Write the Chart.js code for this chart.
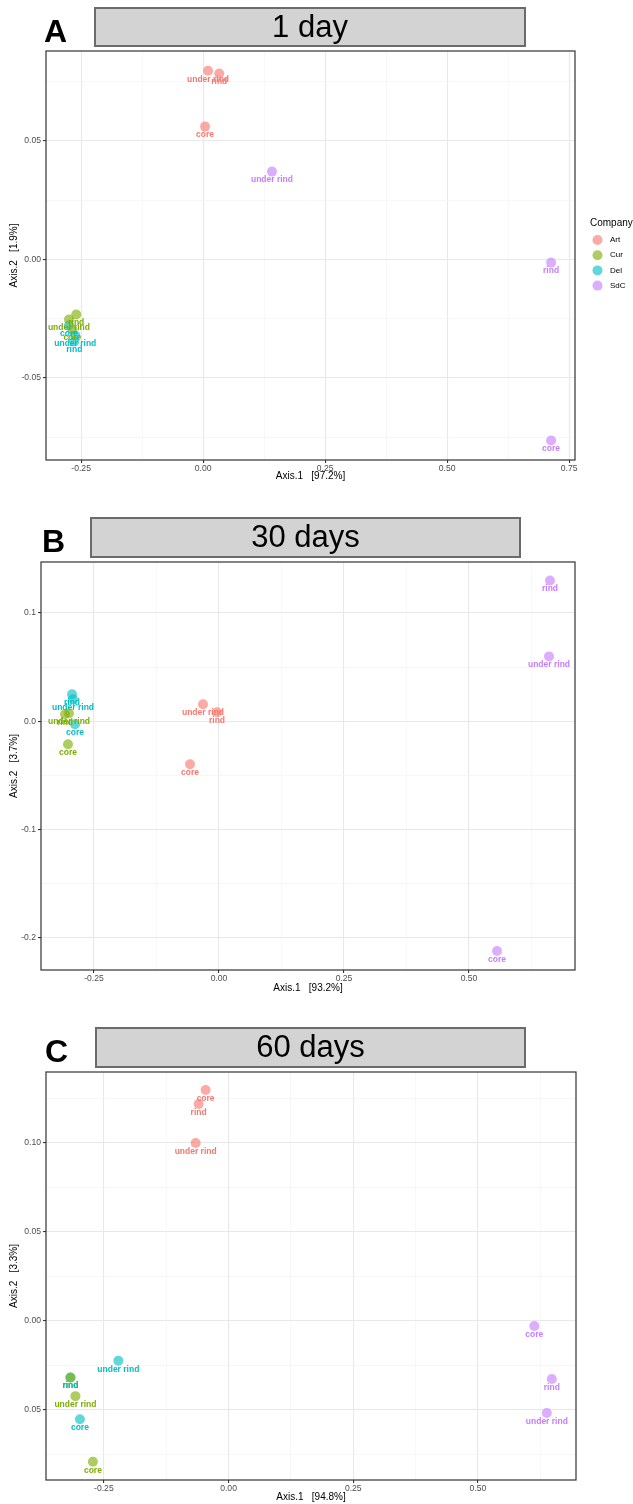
<!DOCTYPE html>
<html>
<head>
<meta charset="utf-8">
<script src="https://cdn.jsdelivr.net/npm/chart.js@4.4.1/dist/chart.umd.min.js"></script>
<style>
  html, body { margin: 0; padding: 0; background: #fff; }
  canvas { display: block; }
</style>
</head>
<body>
<canvas id="panelA" width="633" height="500"></canvas>
<canvas id="panelB" width="633" height="510"></canvas>
<canvas id="panelC" width="633" height="494"></canvas>
<script>
// companies and sample sites (each point = [Axis.1, Axis.2], in sites order)
const companies = ['Art', 'Cur', 'Del', 'SdC'];
const sites = ['core', 'rind', 'under rind'];

// 1 day
const day1Art = [[0.004, 0.0561], [0.033, 0.0785], [0.010, 0.0797]];
const day1Cur = [[-0.268, -0.0295], [-0.260, -0.0232], [-0.275, -0.0253]];
const day1Del = [[-0.275, -0.0278], [-0.264, -0.0346], [-0.262, -0.0321]];
const day1SdC = [[0.713, -0.0764], [0.713, -0.0013], [0.141, 0.0371]];

// 30 days
const day30Art = [[-0.058, -0.0396], [-0.004, 0.0083], [-0.032, 0.0157]];
const day30Cur = [[-0.302, -0.0212], [-0.308, 0.0065], [-0.300, 0.0074]];
const day30Del = [[-0.288, -0.0028], [-0.294, 0.0249], [-0.292, 0.0203]];
const day30SdC = [[0.556, -0.212], [0.662, 0.130], [0.660, 0.0599]];

// 60 days
const day60Art = [[-0.046, 0.1298], [-0.060, 0.1219], [-0.066, 0.1000]];
const day60Cur = [[-0.272, -0.0790], [-0.317, -0.0317], [-0.307, -0.0422]];
const day60Del = [[-0.298, -0.0552], [-0.317, -0.0317], [-0.221, -0.0223]];
const day60SdC = [[0.613, -0.0028], [0.648, -0.0326], [0.638, -0.0517]];

// ticks
const ticksA_x = [-0.25, 0, 0.25, 0.5, 0.75];
const labelsA_x = ['-0.25', '0.00', '0.25', '0.50', '0.75'];
const minorA_x = [-0.125, 0.125, 0.375, 0.625];
const ticksA_y = [-0.05, 0, 0.05];
const labelsA_y = ['-0.05', '0.00', '0.05'];
const minorA_y = [-0.075, -0.025, 0.025, 0.075];

const ticksB_x = [-0.25, 0, 0.25, 0.5];
const labelsB_x = ['-0.25', '0.00', '0.25', '0.50'];
const minorB_x = [-0.125, 0.125, 0.375, 0.625];
const ticksB_y = [-0.2, -0.1, 0, 0.1];
const labelsB_y = ['-0.2', '-0.1', '0.0', '0.1'];
const minorB_y = [-0.15, -0.05, 0.05];

const ticksC_x = [-0.25, 0, 0.25, 0.5];
const labelsC_x = ['-0.25', '0.00', '0.25', '0.50'];
const minorC_x = [-0.125, 0.125, 0.375, 0.625];
const ticksC_y = [-0.05, 0, 0.05, 0.10];
const labelsC_y = ['0.05', '0.00', '0.05', '0.10'];
const minorC_y = [-0.075, -0.025, 0.025, 0.075, 0.125];

const colors = ['#F8766D', '#7CAE00', '#00BFC4', '#C77CFF'];
const fills = ['rgba(248,118,109,0.62)', 'rgba(124,174,0,0.62)', 'rgba(0,191,196,0.62)', 'rgba(199,124,255,0.62)'];
const FONT = '"Liberation Sans", Arial, Helvetica, sans-serif';

// text labels under points + panel frame
const pointLabels = {
  id: 'pointLabels',
  afterDatasetsDraw(chart) {
    const ctx = chart.ctx;
    ctx.save();
    ctx.font = 'bold 8.5px ' + FONT;
    ctx.textAlign = 'center';
    ctx.textBaseline = 'middle';
    chart.data.datasets.forEach((ds, i) => {
      ctx.fillStyle = colors[i];
      chart.getDatasetMeta(i).data.forEach((pt, j) => {
        ctx.fillText(sites[j], pt.x, pt.y + 8.5);
      });
    });
    const a = chart.chartArea;
    ctx.strokeStyle = '#333';
    ctx.lineWidth = 1.2;
    ctx.strokeRect(a.left, a.top, a.right - a.left, a.bottom - a.top);
    ctx.restore();
  }
};

// panel letter and grey title strip
const header = {
  id: 'header',
  afterDraw(chart, args, o) {
    const ctx = chart.ctx;
    ctx.save();
    ctx.fillStyle = '#d3d3d3';
    ctx.fillRect(o.box[0], o.box[1], o.box[2], o.box[3]);
    ctx.strokeStyle = '#6b6b6b';
    ctx.lineWidth = 2;
    ctx.strokeRect(o.box[0], o.box[1], o.box[2], o.box[3]);
    ctx.fillStyle = '#000';
    ctx.textBaseline = 'middle';
    ctx.textAlign = 'center';
    ctx.font = '31px ' + FONT;
    ctx.fillText(o.title, o.box[0] + o.box[2] / 2, o.box[1] + o.box[3] / 2 + 1);
    ctx.textAlign = 'left';
    ctx.textBaseline = 'alphabetic';
    ctx.font = 'bold 32px ' + FONT;
    ctx.fillText(o.letter, o.letterPos[0], o.letterPos[1]);
    if (o.legend) {
      ctx.font = '10px ' + FONT;
      ctx.textBaseline = 'middle';
      ctx.fillText('Company', 590, 223);
      ctx.font = '8px ' + FONT;
      companies.forEach((c, i) => {
        const y = 240 + i * 15.2;
        ctx.fillStyle = fills[i];
        ctx.beginPath();
        ctx.arc(597.5, y, 5, 0, Math.PI * 2);
        ctx.fill();
        ctx.fillStyle = '#000';
        ctx.fillText(c, 610, y);
      });
    }
    ctx.restore();
  }
};

function axis(isX, min, max, ticks, labels, minors, title, size, titlePad) {
  const all = ticks.concat(minors).sort((a, b) => a - b);
  const majorIdx = v => ticks.findIndex(t => Math.abs(t - v) < 1e-9);
  const isMajor = c => c.tick && majorIdx(c.tick.value) >= 0;
  return {
    type: 'linear',
    min: min,
    max: max,
    afterBuildTicks: s => { s.ticks = all.map(v => ({ value: v })); },
    afterFit: s => { if (isX) s.height = size; else s.width = size; },
    ticks: {
      autoSkip: false,
      maxRotation: 0,
      padding: isX ? 0 : 2,
      color: '#4d4d4d',
      font: { size: 8.6, family: FONT },
      callback: v => { const k = majorIdx(v); return k < 0 ? '' : labels[k]; }
    },
    grid: {
      color: c => isMajor(c) ? '#e8e8e8' : '#f1f1f1',
      lineWidth: c => isMajor(c) ? 1.1 : 0.6,
      tickLength: 3,
      tickColor: c => isMajor(c) ? '#333' : 'rgba(0,0,0,0)'
    },
    border: { display: false },
    title: {
      display: true,
      text: title,
      color: '#000',
      font: { size: 10, family: FONT },
      padding: titlePad
    }
  };
}

function makePanel(id, sets, p) {
  new Chart(document.getElementById(id), {
    type: 'scatter',
    data: {
      datasets: sets.map((pts, i) => ({
        label: companies[i],
        data: pts.map(d => ({ x: d[0], y: d[1] })),
        backgroundColor: fills[i],
        borderWidth: 0,
        pointRadius: 5,
        pointHoverRadius: 5
      }))
    },
    options: {
      responsive: false,
      animation: false,
      layout: { padding: { top: p.top, left: 0, right: 633 - p.right, bottom: p.bottom } },
      plugins: {
        legend: { display: false },
        tooltip: { enabled: false },
        header: { title: p.title, letter: p.letter, box: p.box, letterPos: p.letterPos, legend: p.legend }
      },
      scales: {
        x: axis(true, p.xr[0], p.xr[1], p.xt[0], p.xt[1], p.xt[2], p.xTitle, p.xh, { top: 0, bottom: p.xpad }),
        y: axis(false, p.yr[0], p.yr[1], p.yt[0], p.yt[1], p.yt[2], p.yTitle, p.left, { top: 8, bottom: 0 })
      }
    },
    plugins: [pointLabels, header]
  });
}

makePanel('panelA', [day1Art, day1Cur, day1Del, day1SdC], {
  title: '1 day', letter: 'A', box: [95, 8, 430, 38], letterPos: [44, 42], legend: true,
  top: 51, right: 575, left: 46, bottom: 16, xh: 24, xpad: 2,
  xr: [-0.322, 0.762], yr: [-0.0846, 0.088],
  xt: [ticksA_x, labelsA_x, minorA_x], yt: [ticksA_y, labelsA_y, minorA_y],
  xTitle: 'Axis.1   [97.2%]', yTitle: 'Axis.2   [1.9%]'
});

makePanel('panelB', [day30Art, day30Cur, day30Del, day30SdC], {
  title: '30 days', letter: 'B', box: [91, 18, 429, 39], letterPos: [42, 52], legend: false,
  top: 62, right: 575, left: 41, bottom: 14, xh: 26, xpad: 2,
  xr: [-0.356, 0.712], yr: [-0.2295, 0.147],
  xt: [ticksB_x, labelsB_x, minorB_x], yt: [ticksB_y, labelsB_y, minorB_y],
  xTitle: 'Axis.1   [93.2%]', yTitle: 'Axis.2   [3.7%]'
});

makePanel('panelC', [day60Art, day60Cur, day60Del, day60SdC], {
  title: '60 days', letter: 'C', box: [96, 18, 429, 39], letterPos: [45, 52], legend: false,
  top: 62, right: 576, left: 46, bottom: 0, xh: 24, xpad: 1,
  xr: [-0.366, 0.6965], yr: [-0.0893, 0.1399],
  xt: [ticksC_x, labelsC_x, minorC_x], yt: [ticksC_y, labelsC_y, minorC_y],
  xTitle: 'Axis.1   [94.8%]', yTitle: 'Axis.2   [3.3%]'
});
</script>
</body>
</html>
